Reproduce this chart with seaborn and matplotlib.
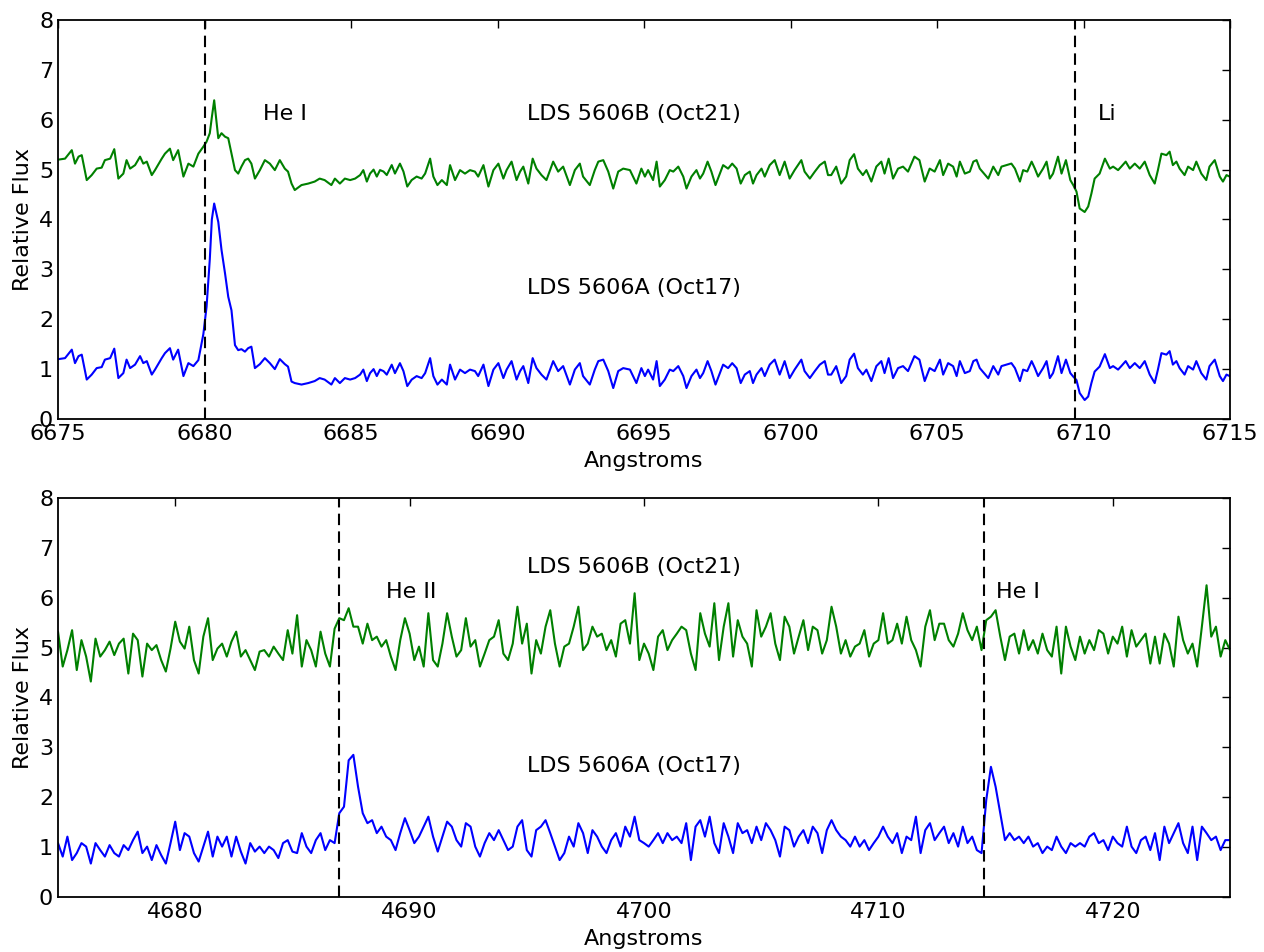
import numpy as np
import pandas as pd
import matplotlib
matplotlib.use('Agg')
import matplotlib.pyplot as plt
import seaborn as sns

# ---- red region (He I 6678, Li 6708), wavelengths in Angstroms ----
red_wave = [
    6674.90, 6675.24, 6675.47, 6675.58, 6675.70, 6675.81, 6675.98, 6676.15, 6676.32, 6676.49,
    6676.60, 6676.78, 6676.92, 6677.06, 6677.23, 6677.34, 6677.46, 6677.63, 6677.80, 6677.91,
    6678.03, 6678.20, 6678.31, 6678.54, 6678.65, 6678.82, 6678.93, 6679.10, 6679.28, 6679.45,
    6679.62, 6679.79, 6679.96, 6680.07, 6680.18, 6680.25, 6680.33, 6680.47, 6680.58, 6680.70,
    6680.81, 6680.92, 6681.04, 6681.15, 6681.26, 6681.38, 6681.49, 6681.60, 6681.72, 6681.89,
    6682.06, 6682.23, 6682.40, 6682.57, 6682.74, 6682.85, 6682.97, 6683.08, 6683.31, 6683.54,
    6683.76, 6683.93, 6684.10, 6684.33, 6684.45, 6684.62, 6684.79,
    6684.97, 6685.14, 6685.31, 6685.42, 6685.54, 6685.65, 6685.77, 6685.88, 6685.99, 6686.11,
    6686.22, 6686.39, 6686.50, 6686.67, 6686.79, 6686.92, 6687.07, 6687.24, 6687.41, 6687.53,
    6687.70, 6687.81, 6687.95, 6688.10, 6688.27, 6688.38, 6688.55, 6688.72, 6688.89, 6689.06,
    6689.23, 6689.34, 6689.52, 6689.69, 6689.86, 6690.03, 6690.20, 6690.31, 6690.48, 6690.65,
    6690.77, 6690.88, 6691.05, 6691.20, 6691.33, 6691.50, 6691.67, 6691.90, 6692.07, 6692.24,
    6692.47, 6692.64, 6692.81, 6692.92, 6693.15, 6693.32, 6693.44, 6693.61, 6693.78, 6693.95,
    6694.12, 6694.29, 6694.52, 6694.74, 6694.91,
    6695.03, 6695.14, 6695.31, 6695.43, 6695.54, 6695.71, 6695.88, 6696.00, 6696.17, 6696.34,
    6696.45, 6696.62, 6696.79, 6696.91, 6697.02, 6697.17, 6697.30, 6697.44, 6697.59, 6697.70,
    6697.87, 6698.01, 6698.16, 6698.30, 6698.44, 6698.61, 6698.72, 6698.84, 6699.01, 6699.12,
    6699.29, 6699.46, 6699.63, 6699.80, 6699.97, 6700.14, 6700.37, 6700.48, 6700.66, 6700.83,
    6701.00, 6701.17, 6701.28, 6701.39, 6701.56, 6701.73, 6701.90, 6702.02, 6702.17, 6702.30,
    6702.47, 6702.59, 6702.76, 6702.93, 6703.10, 6703.21, 6703.35, 6703.50, 6703.67, 6703.84,
    6704.01, 6704.23, 6704.40, 6704.58, 6704.75, 6704.92,
    6705.10, 6705.21, 6705.38, 6705.55, 6705.67, 6705.78, 6705.95, 6706.12, 6706.24, 6706.35,
    6706.46, 6706.75, 6706.92, 6707.09, 6707.20, 6707.37, 6707.54, 6707.66, 6707.83, 6707.94,
    6708.08, 6708.23, 6708.34, 6708.45, 6708.62, 6708.74, 6708.85, 6708.96, 6709.13, 6709.25,
    6709.40, 6709.55, 6709.65, 6709.76, 6709.87, 6710.04, 6710.16, 6710.27, 6710.38, 6710.55,
    6710.73, 6710.90, 6711.01, 6711.18, 6711.29, 6711.44, 6711.58, 6711.75, 6711.92, 6712.09,
    6712.26, 6712.43, 6712.54, 6712.66, 6712.83, 6712.94, 6713.05, 6713.17, 6713.28, 6713.45,
    6713.57, 6713.74, 6713.85, 6714.02, 6714.19, 6714.30, 6714.48, 6714.65, 6714.76, 6714.88,
    6714.99, 6715.10,
]
# LDS 5606B (Oct21), shifted up by 4
red_b = [
    5.19, 5.22, 5.39, 5.12, 5.26, 5.29, 4.79, 4.89, 5.02, 5.04,
    5.19, 5.22, 5.41, 4.82, 4.92, 5.19, 5.02, 5.09, 5.26, 5.12,
    5.16, 4.89, 4.99, 5.22, 5.32, 5.42, 5.19, 5.39, 4.86, 5.12,
    5.06, 5.32, 5.46, 5.56, 5.73, 6.05, 6.39, 5.63, 5.73, 5.66,
    5.63, 5.32, 4.99, 4.92, 5.06, 5.19, 5.22, 5.12, 4.82, 4.99,
    5.19, 5.12, 4.99, 5.19, 5.02, 4.96, 4.72, 4.59, 4.69, 4.72,
    4.76, 4.82, 4.79, 4.69, 4.82, 4.72, 4.82,
    4.79, 4.82, 4.89, 4.99, 4.76, 4.92, 5.00, 4.86, 4.99, 4.96,
    4.89, 5.09, 4.92, 5.12, 4.96, 4.66, 4.79, 4.86, 4.82, 4.92,
    5.22, 4.86, 4.69, 4.79, 4.69, 5.09, 4.79, 4.99, 4.92, 4.99,
    4.96, 4.86, 5.09, 4.66, 4.99, 5.12, 4.82, 4.99, 5.16, 4.79,
    4.96, 5.06, 4.72, 5.22, 5.02, 4.89, 4.79, 5.16, 4.96, 5.06,
    4.69, 4.99, 5.12, 4.86, 4.69, 4.99, 5.16, 5.19, 4.96, 4.62,
    4.96, 5.02, 4.99, 4.72, 5.02,
    4.86, 4.99, 4.79, 5.16, 4.66, 4.79, 4.99, 4.96, 5.06, 4.86,
    4.62, 4.86, 4.99, 4.82, 4.92, 5.16, 4.96, 4.69, 4.92, 5.09,
    5.02, 5.12, 5.02, 4.72, 4.89, 4.96, 4.72, 4.89, 5.02, 4.86,
    5.09, 5.19, 4.89, 5.16, 4.82, 4.99, 5.19, 4.96, 4.82, 4.96,
    5.09, 5.16, 4.89, 4.89, 5.06, 4.72, 4.86, 5.19, 5.31, 5.02,
    4.89, 4.99, 4.76, 5.06, 5.16, 4.92, 5.22, 4.82, 5.02, 5.06,
    4.96, 5.26, 5.19, 4.76, 5.02, 4.96,
    5.19, 4.89, 5.12, 5.06, 4.86, 5.16, 4.92, 4.96, 5.16, 5.19,
    5.02, 4.82, 5.06, 4.89, 5.06, 5.09, 5.12, 5.02, 4.76, 4.99,
    4.96, 5.16, 5.02, 4.86, 5.02, 5.16, 4.82, 4.92, 5.26, 4.92,
    5.19, 4.79, 4.69, 4.56, 4.22, 4.15, 4.26, 4.52, 4.82, 4.92,
    5.22, 5.02, 5.06, 4.99, 5.06, 5.16, 5.02, 5.12, 5.02, 5.16,
    4.89, 4.72, 4.99, 5.32, 5.29, 5.36, 5.09, 5.16, 5.02, 4.89,
    5.06, 4.99, 5.16, 4.92, 4.79, 5.06, 5.19, 4.86, 4.76, 4.89,
    4.86, 4.86,
]
# LDS 5606A (Oct17)
red_a = [
    1.19, 1.22, 1.39, 1.12, 1.26, 1.29, 0.79, 0.89, 1.02, 1.04,
    1.19, 1.22, 1.41, 0.82, 0.92, 1.19, 1.02, 1.09, 1.26, 1.12,
    1.16, 0.89, 0.99, 1.22, 1.32, 1.42, 1.19, 1.39, 0.86, 1.12,
    1.06, 1.18, 1.70, 2.25, 3.20, 4.00, 4.32, 3.95, 3.39, 2.92,
    2.45, 2.18, 1.48, 1.38, 1.40, 1.35, 1.42, 1.45, 1.02, 1.10,
    1.22, 1.12, 1.00, 1.20, 1.10, 1.05, 0.75, 0.72, 0.69, 0.72,
    0.76, 0.82, 0.79, 0.69, 0.82, 0.72, 0.82,
    0.79, 0.82, 0.89, 0.99, 0.76, 0.92, 1.00, 0.86, 0.99, 0.96,
    0.89, 1.09, 0.92, 1.12, 0.96, 0.66, 0.79, 0.86, 0.82, 0.92,
    1.22, 0.86, 0.69, 0.79, 0.69, 1.09, 0.79, 0.99, 0.92, 0.99,
    0.96, 0.86, 1.09, 0.66, 0.99, 1.12, 0.82, 0.99, 1.16, 0.79,
    0.96, 1.06, 0.72, 1.22, 1.02, 0.89, 0.79, 1.16, 0.96, 1.06,
    0.69, 0.99, 1.12, 0.86, 0.69, 0.99, 1.16, 1.19, 0.96, 0.62,
    0.96, 1.02, 0.99, 0.72, 1.02,
    0.86, 0.99, 0.79, 1.16, 0.66, 0.79, 0.99, 0.96, 1.06, 0.86,
    0.62, 0.86, 0.99, 0.82, 0.92, 1.16, 0.96, 0.69, 0.92, 1.09,
    1.02, 1.12, 1.02, 0.72, 0.89, 0.96, 0.72, 0.89, 1.02, 0.86,
    1.09, 1.19, 0.89, 1.16, 0.82, 0.99, 1.19, 0.96, 0.82, 0.96,
    1.09, 1.16, 0.89, 0.89, 1.06, 0.72, 0.86, 1.19, 1.31, 1.02,
    0.89, 0.99, 0.76, 1.06, 1.16, 0.92, 1.22, 0.82, 1.02, 1.06,
    0.96, 1.26, 1.19, 0.76, 1.02, 0.96,
    1.19, 0.89, 1.12, 1.06, 0.86, 1.16, 0.92, 0.96, 1.16, 1.19,
    1.02, 0.82, 1.06, 0.89, 1.06, 1.09, 1.12, 1.02, 0.76, 0.99,
    0.96, 1.16, 1.02, 0.86, 1.02, 1.16, 0.82, 0.92, 1.26, 0.92,
    1.19, 0.92, 0.85, 0.78, 0.52, 0.38, 0.45, 0.72, 0.95, 1.05,
    1.30, 1.02, 1.06, 0.99, 1.06, 1.16, 1.02, 1.12, 1.02, 1.16,
    0.89, 0.72, 0.99, 1.32, 1.29, 1.36, 1.09, 1.16, 1.02, 0.89,
    1.06, 0.99, 1.16, 0.92, 0.79, 1.06, 1.19, 0.86, 0.76, 0.89,
    0.86, 0.86,
]

# ---- blue region (He II 4686, He I 4713), sampled every 0.2 A from 4675.0 ----
blue_start = 4675.0
blue_step = 0.2
blue_b = [
    5.32, 4.62, 4.95, 5.35, 4.55, 5.15, 4.82, 4.32, 5.18, 4.82,
    4.95, 5.12, 4.85, 5.08, 5.18, 4.48, 5.28, 5.15, 4.42, 5.08,
    4.95, 5.05, 4.75, 4.52, 4.98, 5.52, 5.12, 4.98, 5.42, 4.75,
    4.48, 5.22, 5.59, 4.75, 4.98, 5.08, 4.82, 5.12, 5.32, 4.82,
    4.95, 4.75, 4.55, 4.92, 4.95, 4.82, 5.02, 4.88, 4.75, 5.35,
    4.88, 5.65, 4.62, 5.15, 4.95, 4.62, 5.32, 4.88, 4.62, 5.38,
    5.59, 5.55, 5.79, 5.42,
    5.42, 5.08, 5.48, 5.15, 5.22, 5.02, 5.15, 4.82, 4.55, 5.15,
    5.59, 5.28, 4.75, 5.02, 4.62, 5.69, 4.75, 4.62, 5.08, 5.69,
    5.22, 4.82, 4.95, 5.59, 5.02, 5.15, 4.62, 4.88, 5.15, 5.22,
    5.55, 4.88, 4.75, 5.08, 5.82, 5.08, 5.48, 4.48, 5.15, 4.88,
    5.42, 5.75, 5.08, 4.62, 5.02, 5.08, 5.42, 5.82, 4.95, 5.08,
    5.42, 5.22, 5.28, 4.95, 5.15, 4.82, 5.48, 5.55, 5.08, 6.09,
    4.75, 5.08,
    4.88, 4.55, 5.22, 5.35, 4.95, 5.15, 5.28, 5.42, 5.35, 4.88,
    4.55, 5.69, 5.28, 5.02, 5.89, 4.75, 5.42, 5.89, 4.82, 5.55,
    5.22, 5.08, 4.62, 5.75, 5.22, 5.42, 5.69, 5.08, 4.75, 5.62,
    5.42, 4.88, 5.22, 5.55, 4.95, 5.42, 5.35, 4.88, 5.15, 5.82,
    5.42, 4.88, 5.15, 4.82, 5.02, 5.08, 5.35, 4.82, 5.08, 5.15,
    5.69, 5.08, 5.15, 5.48, 5.08, 5.62, 5.15, 4.95, 4.62, 5.42,
    5.75, 5.15, 5.48,
    5.48, 5.15, 5.02, 5.28, 5.69, 5.35, 5.15, 5.42, 4.95, 5.55,
    5.62, 5.75, 5.22, 4.75, 5.22, 5.28, 4.88, 5.35, 4.95, 5.15,
    4.88, 5.28, 4.95, 4.82, 5.42, 4.48, 5.42, 5.02, 4.75, 5.22,
    4.88, 5.15, 4.95, 5.35, 5.28, 4.88, 5.22, 5.08, 5.42, 4.82,
    5.35, 5.02, 5.15, 5.28, 4.68, 5.22, 4.68, 5.28, 5.08, 4.62,
    5.62, 5.15, 4.88, 5.08, 4.62, 5.42, 6.25, 5.22, 5.42, 4.82,
    5.15, 4.95,
]
blue_a = [
    1.08, 0.81, 1.21, 0.74, 0.88, 1.08, 1.01, 0.67, 1.08, 0.94,
    0.81, 1.04, 0.88, 0.81, 1.04, 0.94, 1.14, 1.31, 0.88, 1.01,
    0.74, 1.04, 0.84, 0.67, 1.08, 1.51, 0.94, 1.28, 1.21, 0.88,
    0.71, 1.01, 1.31, 0.81, 1.21, 1.01, 1.21, 0.81, 1.21, 0.91,
    0.67, 1.08, 0.91, 1.01, 0.88, 1.01, 0.94, 0.78, 1.08, 1.14,
    0.91, 0.88, 1.28, 1.01, 0.88, 1.14, 1.28, 0.94, 1.14, 1.08,
    1.68, 1.81, 2.74, 2.85,
    2.21, 1.68, 1.48, 1.54, 1.28, 1.41, 1.21, 1.14, 0.94, 1.28,
    1.58, 1.34, 1.08, 1.21, 1.41, 1.61, 1.21, 0.91, 1.21, 1.51,
    1.41, 1.14, 1.01, 1.48, 1.41, 1.01, 0.81, 1.08, 1.28, 1.14,
    1.34, 1.14, 0.94, 1.01, 1.41, 1.54, 0.94, 0.81, 1.34, 1.41,
    1.54, 1.28, 1.01, 0.74, 0.88, 1.21, 1.01, 1.48, 1.28, 0.88,
    1.34, 1.21, 1.01, 0.88, 1.14, 1.28, 1.01, 1.41, 1.21, 1.61,
    1.14, 1.08,
    1.01, 1.14, 1.28, 1.08, 1.28, 1.14, 1.21, 1.08, 1.48, 0.74,
    1.41, 1.54, 1.21, 1.61, 1.08, 0.88, 1.48, 1.21, 0.88, 1.48,
    1.28, 1.34, 1.08, 1.41, 1.14, 1.48, 1.34, 1.14, 0.81, 1.41,
    1.34, 1.01, 1.21, 1.34, 1.08, 1.41, 1.28, 0.88, 1.34, 1.54,
    1.34, 1.21, 1.14, 1.01, 1.21, 1.01, 1.14, 0.94, 1.08, 1.21,
    1.41, 1.21, 1.08, 1.28, 0.88, 1.21, 1.14, 1.61, 0.88, 1.34,
    1.48, 1.14, 1.28,
    1.41, 1.08, 1.28, 1.01, 1.41, 1.08, 1.21, 0.94, 0.88, 1.94,
    2.61, 2.21, 1.68, 1.14, 1.28, 1.14, 1.21, 1.08, 1.21, 1.01,
    1.08, 0.88, 1.01, 0.94, 1.21, 1.01, 0.88, 1.08, 1.01, 1.08,
    1.01, 1.21, 1.28, 1.08, 1.14, 0.94, 1.21, 1.08, 1.01, 1.41,
    1.01, 0.88, 1.14, 1.21, 0.94, 1.28, 0.74, 1.41, 1.08, 1.28,
    1.48, 1.08, 0.88, 1.41, 0.74, 1.41, 1.28, 1.14, 1.21, 0.94,
    1.14, 1.14,
]
blue_wave = np.round(blue_start + blue_step * np.arange(len(blue_b)), 2)

red_marks = [6680.0, 6709.7]
blue_marks = [4687.0, 4714.5]
red_notes = [('He I', 6682.0, 6.0), ('LDS 5606B (Oct21)', 6691.0, 6.0),
             ('LDS 5606A (Oct17)', 6691.0, 2.5), ('Li', 6710.5, 6.0)]
blue_notes = [('He II', 4689.0, 6.0), ('LDS 5606B (Oct21)', 4695.0, 6.5),
              ('LDS 5606A (Oct17)', 4695.0, 2.5), ('He I', 4715.0, 6.0)]

assert len(red_wave) == len(red_b) == len(red_a)
assert len(blue_b) == len(blue_a) == 251

sns.set_style('white')
plt.rcParams.update({
    'font.family': ['DejaVu Sans'],
    'font.size': 16,
    'text.color': 'black',
    'axes.labelcolor': 'black',
    'axes.edgecolor': 'black',
    'axes.linewidth': 1.3,
    'xtick.direction': 'in', 'ytick.direction': 'in',
    'xtick.top': True, 'ytick.right': True,
    'xtick.major.size': 6, 'ytick.major.size': 6,
    'xtick.major.width': 1, 'ytick.major.width': 1,
    'xtick.color': 'black', 'ytick.color': 'black',
    'xtick.labelsize': 16, 'ytick.labelsize': 16,
    'axes.labelsize': 16,
})

fig = plt.figure(figsize=(12.64, 9.52), dpi=100)
ax1 = fig.add_axes([0.0459, 0.5599, 0.9272, 0.4191])
ax2 = fig.add_axes([0.0459, 0.0578, 0.9272, 0.4191])

palette = {'B': 'g', 'A': 'b'}
red_df = pd.DataFrame({'wave': red_wave * 2, 'flux': red_b + red_a,
                       'star': ['B'] * len(red_b) + ['A'] * len(red_a)})
blue_df = pd.DataFrame({'wave': list(blue_wave) * 2, 'flux': blue_b + blue_a,
                        'star': ['B'] * len(blue_b) + ['A'] * len(blue_a)})

for ax, df, marks, notes, lim, ticks in [
        (ax1, red_df, red_marks, red_notes, (6675, 6715), np.arange(6675, 6716, 5)),
        (ax2, blue_df, blue_marks, blue_notes, (4675, 4725), np.arange(4680, 4721, 10))]:
    sns.lineplot(data=df, x='wave', y='flux', hue='star', palette=palette,
                 estimator=None, sort=False, legend=False, lw=1.5, ax=ax)
    for m in marks:
        ax.axvline(m, color='black', lw=1.5, ls=(0, (5.5, 3.0)))
    for txt, x, y in notes:
        ax.text(x, y, txt, fontsize=16, color='black')
    ax.set_xlim(*lim)
    ax.set_ylim(0, 8)
    ax.set_xticks(ticks)
    ax.set_yticks(range(0, 9))
    ax.set_xlabel('Angstroms', labelpad=5.5)
    ax.set_ylabel('Relative Flux', labelpad=4)

fig.savefig('out.png', dpi=100)
